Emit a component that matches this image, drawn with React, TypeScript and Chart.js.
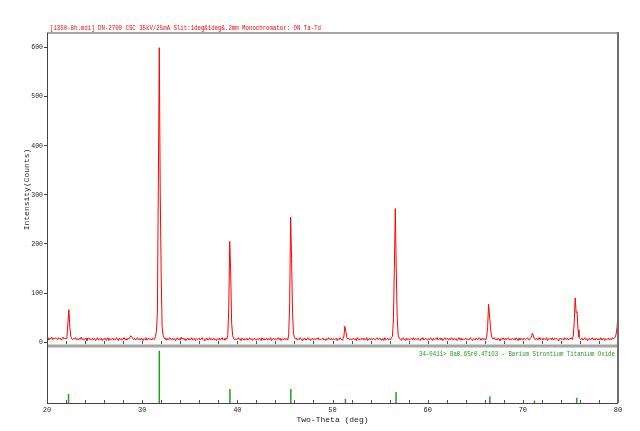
import React, { useEffect, useRef } from 'react';
import { Chart, registerables } from 'chart.js';

Chart.register(...registerables);

// Scan: 2-theta from 20 to 80 deg, step 0.1 deg
const scanStart = 20;
const scanStep = 0.1;
const counts = [
  6, 9, 4, 8, 7, 10, 5, 8, 6, 9,
  7, 5, 9, 6, 8, 4, 7, 10, 6, 8,
  7, 12, 38, 66, 30, 12, 7, 5, 8, 6,
  9, 5, 7, 4, 8, 6, 10, 5, 7, 4,
  6, 8, 3, 7, 9, 5, 6, 4, 8, 5,
  7, 3, 6, 9, 4, 7, 5, 8, 3, 6,
  5, 8, 4, 6, 9, 3, 7, 5, 6, 8,
  4, 7, 5, 9, 6, 3, 8, 5, 7, 4,
  6, 9, 5, 7, 4, 8, 6, 9, 13, 11,
  7, 5, 8, 4, 6, 9, 5, 7, 4, 8,
  6, 3, 7, 5, 9, 4, 6, 8, 5, 7,
  4, 8, 6, 5, 12, 22, 60, 325, 600, 300,
  135, 30, 14, 9, 6, 8, 4, 7, 5, 9,
  6, 4, 8, 5, 7, 3, 6, 9, 5, 7,
  4, 10, 6, 8, 5, 7, 3, 6, 8, 4,
  7, 5, 9, 4, 6, 8, 3, 7, 5, 6,
  8, 4, 6, 9, 5, 3, 7, 5, 8, 4,
  6, 9, 5, 7, 4, 8, 5, 6, 3, 7,
  5, 8, 4, 6, 9, 5, 7, 4, 8, 6,
  14, 70, 205, 145, 40, 14, 8, 5, 7, 4,
  6, 9, 5, 7, 3, 8, 6, 4, 7, 5,
  8, 4, 6, 9, 5, 7, 3, 6, 8, 5,
  4, 7, 5, 8, 6, 3, 9, 5, 7, 4,
  6, 8, 4, 7, 5, 9, 3, 6, 8, 5,
  7, 4, 6, 9, 5, 8, 3, 7, 5, 6,
  8, 5, 7, 4, 16, 80, 255, 170, 60, 18,
  10, 6, 8, 4, 7, 5, 9, 6, 3, 7,
  5, 8, 4, 6, 9, 5, 7, 3, 6, 8,
  4, 7, 5, 8, 6, 9, 4, 6, 5, 7,
  8, 4, 6, 3, 7, 5, 9, 6, 4, 8,
  5, 7, 4, 6, 8, 3, 7, 5, 9, 6,
  4, 7, 12, 32, 22, 10, 6, 8, 5, 7,
  4, 6, 8, 5, 7, 3, 9, 6, 4, 7,
  5, 8, 6, 4, 7, 5, 9, 3, 6, 8,
  4, 7, 5, 8, 6, 4, 7, 9, 5, 6,
  8, 4, 6, 7, 3, 9, 5, 6, 8, 4,
  7, 5, 9, 12, 45, 150, 272, 145, 50, 15,
  8, 6, 4, 7, 9, 5, 6, 3, 8, 5,
  7, 4, 6, 8, 5, 9, 4, 7, 6, 5,
  8, 5, 3, 7, 6, 9, 4, 6, 8, 5,
  4, 7, 5, 9, 6, 3, 8, 5, 7, 6,
  9, 4, 6, 8, 5, 7, 3, 6, 9, 5,
  6, 8, 4, 7, 5, 9, 6, 4, 8, 5,
  7, 3, 6, 9, 5, 8, 4, 7, 5, 6,
  8, 5, 7, 4, 6, 9, 5, 3, 7, 6,
  4, 8, 6, 5, 9, 7, 4, 6, 8, 5,
  7, 4, 10, 30, 77, 55, 30, 12, 8, 6,
  9, 5, 7, 4, 8, 6, 3, 7, 5, 9,
  6, 4, 8, 5, 7, 9, 4, 6, 5, 8,
  5, 7, 4, 9, 6, 3, 8, 5, 7, 6,
  4, 8, 6, 5, 7, 9, 5, 4, 8, 10,
  18, 14, 7, 5, 8, 6, 4, 9, 6, 5,
  7, 4, 8, 6, 5, 9, 3, 7, 6, 8,
  5, 9, 4, 7, 6, 8, 5, 3, 7, 6,
  8, 5, 7, 4, 9, 6, 5, 8, 4, 7,
  6, 9, 5, 12, 40, 90, 60, 62, 25, 10,
  7, 5, 8, 4, 6, 9, 5, 7, 3, 6,
  8, 4, 6, 9, 5, 7, 4, 8, 6, 5,
  7, 5, 9, 4, 6, 8, 3, 7, 5, 6,
  8, 4, 7, 5, 9, 6, 8, 10, 16, 30,
  58,
];

// Reference pattern 34-0411 (stick positions and relative intensities)
const stickTheta = [22.26, 31.8, 39.22, 45.62, 51.36, 56.68, 66.54, 71.22, 75.66];
const stickIntensity = [17, 100, 27, 27, 8, 21, 13, 5, 10];

const xTickValues = [20, 30, 40, 50, 60, 70, 80];
const xMinorTicks = [22, 24, 26, 28, 30, 32, 34, 36, 38, 40, 42, 44, 46, 48, 50, 52, 54, 56, 58, 60, 62, 64, 66, 68, 70, 72, 74, 76, 78];
const yTickValues = [0, 100, 200, 300, 400, 500, 600];

const headerText = '[1350-8h.mdi] DN-2700 CSC 35kV/25mA Slit:1deg&1deg&.2mm Monochromator: ON Ta-Td';
const phaseText = '34-0411> Ba0.6Sr0.4TiO3 - Barium Strontium Titanium Oxide';

const FONT = '"Liberation Mono", "DejaVu Sans Mono", monospace';

function drawFitted(ctx: CanvasRenderingContext2D, text: string, x: number, y: number, width: number, color: string) {
  ctx.save();
  ctx.font = `8px ${FONT}`;
  const w = ctx.measureText(text).width;
  ctx.translate(x, y);
  ctx.scale(width / w, 1);
  ctx.fillStyle = color;
  ctx.textAlign = 'left';
  ctx.textBaseline = 'middle';
  ctx.fillText(text, 0, 0);
  ctx.restore();
}

const decorPlugin = {
  id: 'decor',
  afterDatasetsDraw(chart: any) {
    const { ctx, chartArea: ca, scales } = chart;
    const x = scales.x;
    const y = scales.y;
    const y2 = scales.y2;
    ctx.save();
    ctx.strokeStyle = '#555';
    ctx.lineWidth = 1;
    ctx.beginPath();
    for (const v of xMinorTicks) {
      const px = Math.round(x.getPixelForValue(v)) + 0.5;
      ctx.moveTo(px, y2.bottom);
      ctx.lineTo(px, y2.bottom - 3);
      ctx.moveTo(px, y.bottom - 2);
      ctx.lineTo(px, y.bottom - 5);
    }
    ctx.stroke();
    const w = ca.right - ca.left;
    ctx.fillStyle = '#a6a6a6';
    ctx.fillRect(ca.left, ca.top - 1, w, 2);
    ctx.fillRect(ca.left, y.bottom - 1.5, w, 3);
    ctx.fillStyle = '#6e6e6e';
    ctx.fillRect(ca.right - 1, ca.top - 1, 2, ca.bottom - ca.top + 1);
    ctx.fillStyle = '#444';
    ctx.fillRect(ca.left, ca.top, 1, ca.bottom - ca.top);
    ctx.fillRect(ca.left, ca.bottom, w, 1);
    ctx.restore();
    drawFitted(ctx, headerText, 50, ca.top - 5, 271, '#ff0000');
    drawFitted(ctx, phaseText, 419, y2.top + 8, 196, '#1f9a1f');
  },
};

export default function App() {
  const ref = useRef<HTMLCanvasElement | null>(null);
  useEffect(() => {
    if (!ref.current) return;
    const scanData = counts.map((c, i) => ({ x: +(scanStart + i * scanStep).toFixed(2), y: c }));
    const stickData: { x: number; y: number | null }[] = [];
    stickTheta.forEach((t, i) => {
      stickData.push({ x: t, y: 0 }, { x: t, y: stickIntensity[i] }, { x: t, y: null });
    });
    const chart = new Chart(ref.current, {
      type: 'line',
      data: {
        datasets: [
          {
            data: scanData,
            borderColor: '#ff0000',
            borderWidth: 1,
            pointRadius: 0,
            tension: 0,
            yAxisID: 'y',
            xAxisID: 'x',
          },
          {
            data: stickData as any,
            borderColor: '#22a022',
            borderWidth: 1.5,
            pointRadius: 0,
            spanGaps: false,
            yAxisID: 'y2',
            xAxisID: 'x',
          },
        ],
      },
      options: {
        animation: false,
        responsive: false,
        devicePixelRatio: 1,
        layout: { padding: { top: 33, right: 22, left: 0, bottom: 0 } },
        plugins: { legend: { display: false }, tooltip: { enabled: false }, title: { display: false } },
        scales: {
          x: {
            type: 'linear',
            position: 'bottom',
            min: 20,
            max: 80,
            afterBuildTicks: (s: any) => { s.ticks = xTickValues.map((v) => ({ value: v })); },
            afterFit: (s: any) => { s.height = 28; },
            ticks: { font: { family: FONT, size: 7 }, color: '#222', padding: 3, maxRotation: 0, autoSkip: false },
            grid: { display: false, drawTicks: false },
            border: { display: false },
            title: { display: true, text: 'Two-Theta (deg)', font: { family: FONT, size: 8 }, color: '#222', padding: { top: 0, bottom: 6 } },
          },
          y2: {
            type: 'linear',
            position: 'left',
            stack: 'panels',
            stackWeight: 57,
            min: 0,
            max: 109,
            afterFit: (s: any) => { s.width = 47; },
            ticks: { display: false },
            grid: { display: false },
            border: { display: false },
          },
          y: {
            type: 'linear',
            position: 'left',
            stack: 'panels',
            stackWeight: 313,
            min: -8,
            max: 630,
            afterBuildTicks: (s: any) => { s.ticks = yTickValues.map((v) => ({ value: v })); },
            afterFit: (s: any) => { s.width = 47; },
            ticks: { font: { family: FONT, size: 6.5 }, color: '#222', padding: 1 },
            grid: { drawOnChartArea: false, tickLength: 3, color: '#444' },
            border: { display: false },
            title: { display: true, text: 'Intensity(Counts)', font: { family: FONT, size: 8 }, color: '#222', padding: { top: 22, bottom: 0 } },
          },
        },
      } as any,
      plugins: [decorPlugin],
    });
    return () => chart.destroy();
  }, []);
  return (
    <div style={{ position: 'fixed', left: 0, top: 0, width: 640, height: 431, background: '#fff' }}>
      <canvas ref={ref} width={640} height={431} style={{ width: 640, height: 431, display: 'block' }} />
    </div>
  );
}
